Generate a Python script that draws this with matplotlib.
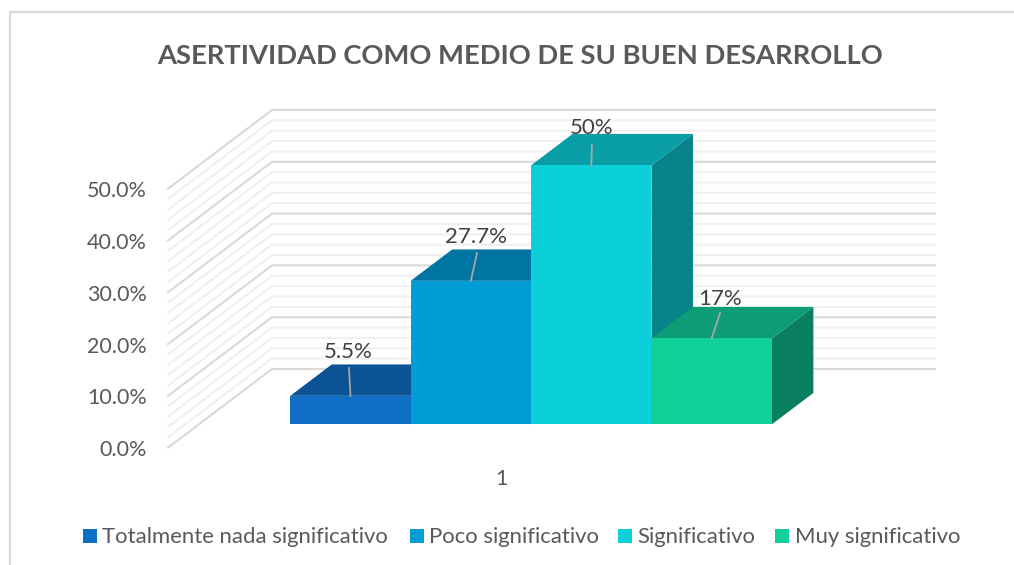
import matplotlib
matplotlib.use("Agg")
import matplotlib.pyplot as plt
from matplotlib.patches import Polygon, Rectangle

plt.rcParams['font.family'] = ['Lato', 'DejaVu Sans']

# --- data ---
title = "ASERTIVIDAD COMO MEDIO DE SU BUEN DESARROLLO"
series_names = ["Totalmente nada significativo", "Poco significativo", "Significativo", "Muy significativo"]
series_values = [5.5, 27.7, 50.0, 16.6]
value_labels = ["5.5%", "27.7%", "50%", "17%"]
y_ticks = [0, 10, 20, 30, 40, 50]
minor_ticks = [v for v in range(0, 51, 2) if v % 10 != 0]
category_label = "1"

# --- style ---
front_cols = ["#0F6FC6", "#009DD9", "#0BD0D9", "#10CF9B"]
top_cols = ["#0B5394", "#0075A3", "#099EA5", "#0C9D76"]
side_cols = ["#09447A", "#005F85", "#08838A", "#0A7F5F"]
label_pos = [(348, 352), (476, 237), (592, 128), (720, 299)]   # label centres
leader_top = [(349, 368), (477, 253), (592, 145), (720, 313)]  # leader ends

# --- oblique projection onto the figure's pixel grid ---
X0, Y0 = 168.0, 447.7     # front-left corner of the floor
DX, DY = 104.0, 78.7      # full depth offset
PX = 5.18                 # pixels per percentage point
WIDTH = 663.0             # width of the back wall
BAR_W = 120.4
BAR_X0 = 91.4
D0, D1 = 0.297, 0.696     # bar depth range


def proj(x, d, v):
    return (X0 + x + DX * d, Y0 - DY * d - PX * v)


fig = plt.figure(figsize=(10.14, 5.65), dpi=100)
ax = fig.add_axes([0, 0, 1, 1])
ax.set_xlim(0, 1014)
ax.set_ylim(565, 0)
ax.axis("off")

# chart frame
ax.plot([10, 10, 1014], [565, 12, 12], color="#D9D9D9", lw=1.6, zorder=1, solid_joinstyle="miter")

# walls
for ticks, col, lw, z in ((minor_ticks, "#F0F0F0", 1.5, 2), (y_ticks, "#D9D9D9", 1.5, 3)):
    for v in ticks:
        pts = [proj(0, 0, v), proj(0, 1, v), proj(WIDTH, 1, v)]
        ax.plot(*zip(*pts), color=col, lw=lw, zorder=z, solid_joinstyle="miter")

# bars
for i, v in enumerate(series_values):
    xl = BAR_X0 + i * BAR_W
    xr = xl + BAR_W
    z = 5 + i
    ax.add_patch(Polygon([proj(xr, D0, 0), proj(xr, D1, 0), proj(xr, D1, v), proj(xr, D0, v)],
                         fc=side_cols[i], ec="none", zorder=z))
    ax.add_patch(Polygon([proj(xl, D0, v), proj(xl, D1, v), proj(xr, D1, v), proj(xr, D0, v)],
                         fc=top_cols[i], ec="none", zorder=z))
    ax.add_patch(Polygon([proj(xl, D0, 0), proj(xr, D0, 0), proj(xr, D0, v), proj(xl, D0, v)],
                         fc=front_cols[i], ec="none", zorder=z))
    # leader line and label
    fx, fy = proj((xl + xr) / 2, D0, v)
    lx, ly = leader_top[i]
    ax.plot([lx, fx], [ly, fy], color="#A6A6A6", lw=1.3, zorder=20)
    ax.text(*label_pos[i], value_labels[i], ha="center", va="center", fontsize=16, color="#404040", zorder=21)

# tick labels
for v in y_ticks:
    _, y = proj(0, 0, v)
    ax.text(147, y + 2.5, f"{v:.1f}%", ha="right", va="center", fontsize=15.5, color="#595959")

ax.text(501, 479, category_label, ha="center", va="center", fontsize=15.5, color="#595959")
ax.text(520, 55.5, title, ha="center", va="center", fontsize=19.7, fontweight="bold", color="#595959")

# legend
legend_sq = [83, 410, 618, 775]
legend_tx = [102, 429, 637, 795]
for i, name in enumerate(series_names):
    ax.add_patch(Rectangle((legend_sq[i], 529), 14, 14, fc=front_cols[i], ec="none"))
    ax.text(legend_tx[i], 537, name, ha="left", va="center", fontsize=15.9, color="#595959")

fig.savefig("out.png", dpi=100)
